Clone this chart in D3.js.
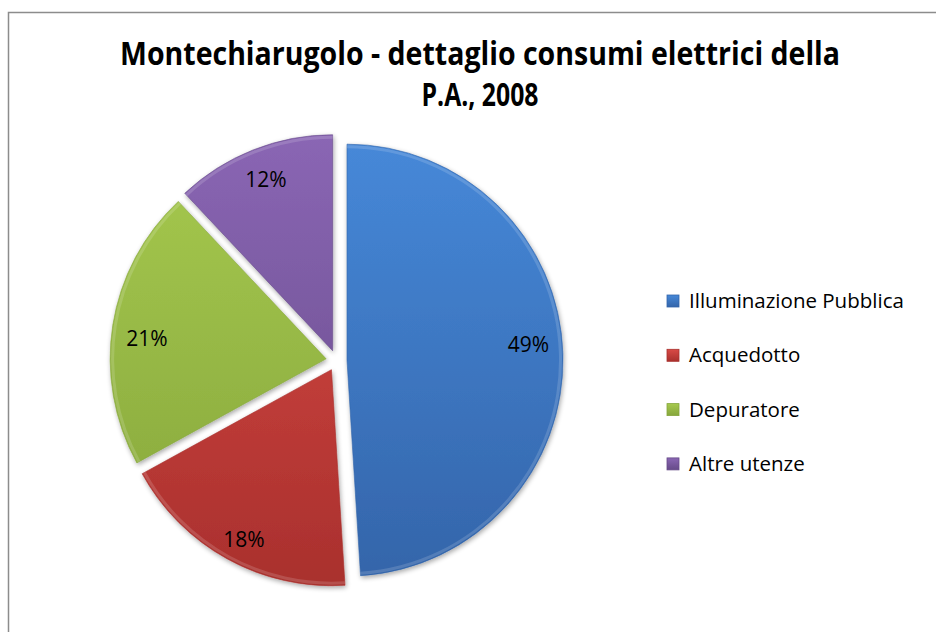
<!DOCTYPE html>
<html lang="it">

<head>
  <meta charset="UTF-8">
  <title>Montechiarugolo - consumi elettrici P.A. 2008</title>
  <script src="https://d3js.org/d3.v7.min.js"></script>
  <style>
    body {
      margin: 0;
      background: #fff;
    }

    svg text {
      font-family: "Open Sans", "Noto Sans", "DejaVu Sans", sans-serif;
      fill: #000;
    }
  </style>
</head>

<body>
  <svg id="chart"></svg>

  <script>
    // Data
    const categories = ["Illuminazione Pubblica", "Acquedotto", "Depuratore", "Altre utenze"];
    const shares = [49, 18, 21, 12];
    const titleLines = ["Montechiarugolo - dettaglio consumi elettrici della", "P.A., 2008"];

    const width = 936;
    const height = 632;
    const cx = 336.5, cy = 360.5;
    const radius = 216;
    const explode = 10.5;

    // top and bottom shades of each slice
    const colorsTop = ["#4688d8", "#d94a46", "#a6c94e", "#8a66b4"];
    const colorsBottom = ["#3465aa", "#a9302d", "#86a63c", "#664a88"];
    // small vertical nudges of the percentage labels, as placed in the original
    const labelNudge = [-10, 11, 8, -2];

    const svg = d3.select("#chart")
      .attr("width", width)
      .attr("height", height);

    const defs = svg.append("defs");

    categories.forEach((c, i) => {
      const g = defs.append("linearGradient")
        .attr("id", "grad" + i)
        .attr("gradientUnits", "userSpaceOnUse")
        .attr("x1", 0).attr("y1", -radius)
        .attr("x2", 0).attr("y2", radius);
      g.append("stop").attr("offset", "0%").attr("stop-color", colorsTop[i]);
      g.append("stop").attr("offset", "100%").attr("stop-color", colorsBottom[i]);

      const lg = defs.append("linearGradient")
        .attr("id", "lgrad" + i)
        .attr("x1", 0).attr("y1", 0).attr("x2", 0).attr("y2", 1);
      lg.append("stop").attr("offset", "0%").attr("stop-color", colorsTop[i]);
      lg.append("stop").attr("offset", "100%").attr("stop-color", colorsBottom[i]);
    });

    // soft shadow behind the slices
    const shadow = defs.append("filter").attr("id", "shadow")
      .attr("x", "-10%").attr("y", "-10%").attr("width", "120%").attr("height", "120%");
    shadow.append("feGaussianBlur").attr("in", "SourceAlpha").attr("stdDeviation", 2.5).attr("result", "blur");
    shadow.append("feOffset").attr("dx", 1).attr("dy", 2).attr("result", "off");
    shadow.append("feComponentTransfer").append("feFuncA").attr("type", "linear").attr("slope", 0.35);
    const merge = shadow.append("feMerge");
    merge.append("feMergeNode");
    merge.append("feMergeNode").attr("in", "SourceGraphic");

    // frame of the chart area
    svg.append("path")
      .attr("d", `M8.5,${height} V12.5 H${width}`)
      .attr("fill", "none")
      .attr("stroke", "#8c8c8c")
      .attr("stroke-width", 1.5);

    // title
    const titleWidths = [720, 117];
    svg.selectAll(".title")
      .data(titleLines)
      .join("text")
      .attr("class", "title")
      .attr("x", 480)
      .attr("y", (d, i) => 65 + i * 41)
      .attr("text-anchor", "middle")
      .attr("font-size", 32)
      .attr("font-weight", "bold")
      .attr("textLength", (d, i) => titleWidths[i])
      .attr("lengthAdjust", "spacingAndGlyphs")
      .text(d => d);

    const pie = d3.pie().sort(null).value(d => d);
    const arcs = pie(shares);

    const arc = d3.arc().innerRadius(0).outerRadius(radius);
    const labelArc = d3.arc().innerRadius(radius * 0.84).outerRadius(radius * 0.84);

    const slices = svg.append("g")
      .attr("transform", `translate(${cx},${cy})`)
      .selectAll("g")
      .data(arcs)
      .join("g")
      .attr("transform", d => {
        const a = (d.startAngle + d.endAngle) / 2;
        return `translate(${explode * Math.sin(a)},${-explode * Math.cos(a)})`;
      });

    slices.append("path")
      .attr("d", arc)
      .attr("fill", (d, i) => `url(#grad${i})`)
      .attr("filter", "url(#shadow)")
      .attr("stroke", (d, i) => colorsBottom[i])
      .attr("stroke-opacity", 0.6)
      .attr("stroke-width", 1);

    // thin bright rim to suggest the bevel
    slices.append("path")
      .attr("d", d3.arc().innerRadius(radius - 4).outerRadius(radius - 1))
      .attr("fill", "#fff")
      .attr("fill-opacity", 0.15);

    slices.append("text")
      .attr("transform", (d, i) => {
        const [x, y] = labelArc.centroid(d);
        return `translate(${x},${y + labelNudge[i]})`;
      })
      .attr("text-anchor", "middle")
      .attr("dy", "0.35em")
      .attr("font-size", 21)
      .text(d => d.data + "%");

    // legend
    const legend = svg.append("g")
      .selectAll("g")
      .data(categories)
      .join("g")
      .attr("transform", (d, i) => `translate(667,${295 + i * 54.3})`);

    legend.append("rect")
      .attr("width", 12)
      .attr("height", 12)
      .attr("fill", (d, i) => `url(#lgrad${i})`)
      .attr("stroke", (d, i) => colorsBottom[i])
      .attr("stroke-width", 0.8);

    legend.append("text")
      .attr("x", 22)
      .attr("y", 13)
      .attr("font-size", 20.5)
      .text(d => d);
  </script>
</body>

</html>
